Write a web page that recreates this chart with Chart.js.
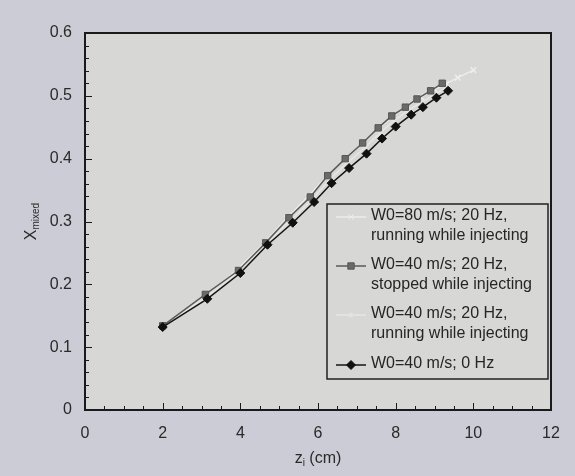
<!DOCTYPE html>
<html>
<head>
<meta charset="utf-8">
<script src="https://cdn.jsdelivr.net/npm/chart.js@4"></script>
<style>
  html, body { margin: 0; padding: 0; background: #cbccd5; }
  #wrap { width: 575px; height: 476px; }
</style>
</head>
<body>
<div id="wrap"><canvas id="mixChart" width="575" height="476"></canvas></div>
<script>
// values
const z80 = [2.0, 3.1, 3.9, 4.6, 5.2, 5.75, 6.25, 6.7, 7.15, 7.55, 7.95, 8.3, 8.65, 9.0, 9.3, 9.6, 10.0];
const x80 = [0.133, 0.182, 0.222, 0.265, 0.305, 0.340, 0.373, 0.400, 0.425, 0.448, 0.468, 0.484, 0.498, 0.510, 0.519, 0.529, 0.541];

const zStopped = [2.0, 3.1, 3.95, 4.65, 5.25, 5.8, 6.25, 6.7, 7.15, 7.55, 7.9, 8.25, 8.55, 8.9, 9.2];
const xStopped = [0.134, 0.184, 0.222, 0.266, 0.306, 0.339, 0.373, 0.400, 0.425, 0.449, 0.468, 0.482, 0.495, 0.508, 0.520];

const zRunning = [2.0, 3.15, 3.95, 4.65, 5.3, 5.85, 6.3, 6.75, 7.2, 7.6, 7.95, 8.3, 8.65, 9.0, 9.3];
const xRunning = [0.133, 0.180, 0.220, 0.264, 0.302, 0.335, 0.367, 0.393, 0.417, 0.441, 0.460, 0.476, 0.489, 0.502, 0.514];

const zNoFreq = [2.0, 3.15, 4.0, 4.7, 5.35, 5.9, 6.35, 6.8, 7.25, 7.65, 8.0, 8.4, 8.7, 9.05, 9.35];
const xNoFreq = [0.132, 0.177, 0.218, 0.263, 0.298, 0.331, 0.361, 0.385, 0.408, 0.432, 0.451, 0.470, 0.482, 0.497, 0.508];

const xTicks = [0, 2, 4, 6, 8, 10, 12];
const yTicks = [0, 0.1, 0.2, 0.3, 0.4, 0.5, 0.6];

const labels80 = ['W0=80 m/s; 20 Hz,', 'running while injecting'];
const labelsStopped = ['W0=40 m/s; 20 Hz,', 'stopped while injecting'];
const labelsRunning = ['W0=40 m/s; 20 Hz,', 'running while injecting'];
const labelsNoFreq = ['W0=40 m/s; 0 Hz'];

const FONT = '"Liberation Sans", Arial, Helvetica, sans-serif';

function pts(xs, ys) {
  return xs.map((x, i) => ({ x: x, y: ys[i] }));
}

// backgrounds, frame, inward ticks
const framePlugin = {
  id: 'frame',
  beforeDraw(chart) {
    const { ctx, chartArea: a } = chart;
    ctx.save();
    ctx.fillStyle = '#cbccd5';
    ctx.fillRect(0, 0, chart.width, chart.height);
    ctx.fillStyle = '#d7d7d5';
    ctx.fillRect(a.left, a.top, a.right - a.left, a.bottom - a.top);
    ctx.restore();
  },
  afterDatasetsDraw(chart) {
    const { ctx, chartArea: a, scales } = chart;
    ctx.save();
    ctx.strokeStyle = '#1a1a1a';
    ctx.lineWidth = 1;
    // minor ticks on x
    for (let v = 0; v <= 12.001; v += 0.5) {
      const px = Math.round(scales.x.getPixelForValue(v)) + 0.5;
      const len = (Math.abs(v % 2) < 0.01) ? 7 : 4;
      ctx.beginPath();
      ctx.moveTo(px, a.bottom);
      ctx.lineTo(px, a.bottom - len);
      ctx.stroke();
    }
    for (let v = 0; v <= 0.6001; v += 0.02) {
      const py = Math.round(scales.y.getPixelForValue(v)) + 0.5;
      const len = (Math.abs((v * 10) - Math.round(v * 10)) < 0.01) ? 7 : 4;
      ctx.beginPath();
      ctx.moveTo(a.left, py);
      ctx.lineTo(a.left + len, py);
      ctx.stroke();
    }
    ctx.lineWidth = 2;
    ctx.strokeRect(a.left, a.top, a.right - a.left, a.bottom - a.top);
    ctx.restore();
  }
};

// axis titles with subscripts
const titlePlugin = {
  id: 'titles',
  afterDraw(chart) {
    const { ctx, chartArea: a } = chart;
    ctx.save();
    ctx.fillStyle = '#2a2a2a';
    ctx.textBaseline = 'alphabetic';
    // x title: z_i (cm)
    const cx = (a.left + a.right) / 2;
    ctx.font = '16px ' + FONT;
    const w1 = ctx.measureText('z').width;
    ctx.font = '10px ' + FONT;
    const w2 = ctx.measureText('i').width;
    ctx.font = '16px ' + FONT;
    const w3 = ctx.measureText(' (cm)').width;
    let x0 = cx - (w1 + w2 + w3) / 2;
    const yb = 463;
    ctx.fillText('z', x0, yb);
    ctx.font = '10px ' + FONT;
    ctx.fillText('i', x0 + w1, yb + 3);
    ctx.font = '16px ' + FONT;
    ctx.fillText(' (cm)', x0 + w1 + w2, yb);

    // y title: X_mixed
    ctx.translate(36, (a.top + a.bottom) / 2);
    ctx.rotate(-Math.PI / 2);
    ctx.font = '16px ' + FONT;
    const v1 = ctx.measureText('X').width;
    ctx.font = '10px ' + FONT;
    const v2 = ctx.measureText('mixed').width;
    let y0 = -(v1 + v2) / 2;
    ctx.font = '16px ' + FONT;
    ctx.fillText('X', y0, 0);
    ctx.font = '10px ' + FONT;
    ctx.fillText('mixed', y0 + v1, 3);
    ctx.restore();
  }
};

// boxed legend with two-line entries
const legendPlugin = {
  id: 'boxLegend',
  afterDraw(chart) {
    const { ctx } = chart;
    const box = { left: 327, top: 204, right: 548, bottom: 379 };
    ctx.save();
    ctx.fillStyle = '#d7d7d5';
    ctx.fillRect(box.left, box.top, box.right - box.left, box.bottom - box.top);
    ctx.strokeStyle = '#222';
    ctx.lineWidth = 1.5;
    ctx.strokeRect(box.left, box.top, box.right - box.left, box.bottom - box.top);
    const rows = [217, 266, 315, 365];
    chart.data.datasets.forEach((ds, i) => {
      const y = rows[i];
      ctx.strokeStyle = ds.borderColor;
      ctx.lineWidth = ds.borderWidth;
      ctx.beginPath();
      ctx.moveTo(336, y);
      ctx.lineTo(366, y);
      ctx.stroke();
      ctx.fillStyle = ds.pointBackgroundColor;
      ctx.strokeStyle = ds.pointBorderColor;
      ctx.lineWidth = 1;
      Chart.helpers.drawPoint(ctx, {
        pointStyle: ds.pointStyle,
        radius: ds.pointRadius,
        rotation: 0,
        borderWidth: 1
      }, 351, y);
      ctx.fillStyle = '#262626';
      ctx.font = '16px ' + FONT;
      ctx.textBaseline = 'middle';
      ds.lines.forEach((t, k) => ctx.fillText(t, 371, y - 1 + k * 20));
    });
    ctx.restore();
  }
};

const chart = new Chart(document.getElementById('mixChart'), {
  type: 'scatter',
  data: {
    datasets: [
      {
        label: labels80.join(' '),
        lines: labels80,
        data: pts(z80, x80),
        showLine: true,
        borderColor: '#ececec',
        borderWidth: 1.5,
        pointStyle: 'crossRot',
        pointRadius: 4,
        pointBorderColor: '#eeeeee',
        pointBackgroundColor: '#eeeeee',
        pointBorderWidth: 1.5,
        order: 4
      },
      {
        label: labelsStopped.join(' '),
        lines: labelsStopped,
        data: pts(zStopped, xStopped),
        showLine: true,
        borderColor: '#5a5a5a',
        borderWidth: 1.5,
        pointStyle: 'rect',
        pointRadius: 4.5,
        pointBorderColor: '#555555',
        pointBackgroundColor: '#6a6a6a',
        pointBorderWidth: 1,
        order: 2
      },
      {
        label: labelsRunning.join(' '),
        lines: labelsRunning,
        data: pts(zRunning, xRunning),
        showLine: true,
        borderColor: '#e6e6e6',
        borderWidth: 1.5,
        pointStyle: 'rect',
        pointRadius: 2.5,
        pointBorderColor: '#e2e2e2',
        pointBackgroundColor: '#e2e2e2',
        pointBorderWidth: 1,
        order: 3
      },
      {
        label: labelsNoFreq.join(' '),
        lines: labelsNoFreq,
        data: pts(zNoFreq, xNoFreq),
        showLine: true,
        borderColor: '#151515',
        borderWidth: 1.5,
        pointStyle: 'rectRot',
        pointRadius: 4.5,
        pointBorderColor: '#111111',
        pointBackgroundColor: '#111111',
        pointBorderWidth: 1,
        order: 1
      }
    ]
  },
  options: {
    responsive: false,
    animation: false,
    layout: { padding: { top: 33, right: 24, bottom: 0, left: 0 } },
    plugins: {
      legend: { display: false },
      tooltip: { enabled: false }
    },
    scales: {
      x: {
        type: 'linear',
        min: 0,
        max: 12,
        afterBuildTicks: (s) => { s.ticks = xTicks.map(v => ({ value: v })); },
        afterFit: (s) => { s.height = 66; },
        grid: { display: false, drawTicks: false },
        border: { display: false },
        ticks: {
          padding: 14,
          color: '#2a2a2a',
          font: { family: FONT, size: 16 }
        }
      },
      y: {
        type: 'linear',
        min: 0,
        max: 0.6,
        afterBuildTicks: (s) => { s.ticks = yTicks.map(v => ({ value: v })); },
        afterFit: (s) => { s.width = 85; },
        grid: { display: false, drawTicks: false },
        border: { display: false },
        ticks: {
          padding: 13,
          color: '#2a2a2a',
          font: { family: FONT, size: 16 }
        }
      }
    }
  },
  plugins: [framePlugin, titlePlugin, legendPlugin]
});
</script>
</body>
</html>
